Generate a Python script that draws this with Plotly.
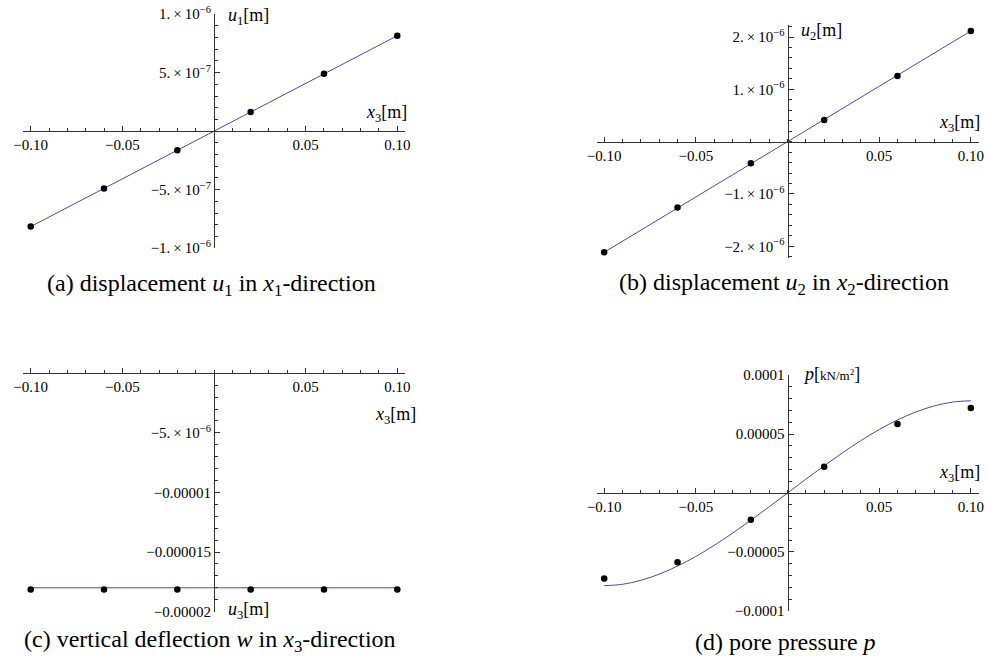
import plotly.graph_objects as go

# ---------------- data ----------------
x_nodes = [-0.10, -0.06, -0.02, 0.02, 0.06, 0.10]

u1_points = [-0.815e-6, -0.49e-6, -0.163e-6, 0.163e-6, 0.49e-6, 0.815e-6]
u1_line_x = [-0.10, 0.10]
u1_line_y = [-0.815e-6, 0.815e-6]

u2_points = [-2.115e-6, -1.26e-6, -0.413e-6, 0.415e-6, 1.256e-6, 2.116e-6]
u2_line_x = [-0.10, 0.10]
u2_line_y = [-2.115e-6, 2.115e-6]

u3_points = [-1.815e-5, -1.815e-5, -1.815e-5, -1.815e-5, -1.815e-5, -1.815e-5]
u3_line_x = [-0.10, 0.10]
u3_line_y = [-1.80e-5, -1.80e-5]

p_points = [-7.24e-5, -5.88e-5, -2.26e-5, 2.23e-5, 5.85e-5, 7.20e-5]
p_curve_x = [-0.10, -0.09, -0.08, -0.07, -0.06, -0.05, -0.04, -0.03, -0.02, -0.01, 0.0,
             0.01, 0.02, 0.03, 0.04, 0.05, 0.06, 0.07, 0.08, 0.09, 0.10]
p_curve_y = [-7.86e-5, -7.74e-5, -7.40e-5, -6.88e-5, -6.20e-5, -5.38e-5, -4.44e-5, -3.41e-5,
             -2.31e-5, -1.17e-5, 0.0,
             1.17e-5, 2.31e-5, 3.41e-5, 4.44e-5, 5.38e-5, 6.19e-5, 6.87e-5, 7.38e-5, 7.71e-5, 7.82e-5]

x_tickvals = [-0.10, -0.05, 0.05, 0.10]
x_ticktext = ["\u22120.10", "\u22120.05", "0.05", "0.10"]

SCI = "\u2009\u00d7\u200910"
y1_tickvals = [-1e-6, -5e-7, 5e-7, 1e-6]
y1_ticktext = ["\u22121." + SCI + "<sup>\u22126</sup>", "\u22125." + SCI + "<sup>\u22127</sup>",
               "5." + SCI + "<sup>\u22127</sup>", "1." + SCI + "<sup>\u22126</sup>"]
y2_tickvals = [-2e-6, -1e-6, 1e-6, 2e-6]
y2_ticktext = ["\u22122." + SCI + "<sup>\u22126</sup>", "\u22121." + SCI + "<sup>\u22126</sup>",
               "1." + SCI + "<sup>\u22126</sup>", "2." + SCI + "<sup>\u22126</sup>"]
y3_tickvals = [-2e-5, -1.5e-5, -1e-5, -5e-6]
y3_ticktext = ["\u22120.00002", "\u22120.000015", "\u22120.00001", "\u22125." + SCI + "<sup>\u22126</sup>"]
y4_tickvals = [-1e-4, -5e-5, 5e-5, 1e-4]
y4_ticktext = ["\u22120.0001", "\u22120.00005", "0.00005", "0.0001"]

captions = [
    "(a) displacement <i>u</i><sub>1</sub> in <i>x</i><sub>1</sub>-direction",
    "(b) displacement <i>u</i><sub>2</sub> in <i>x</i><sub>2</sub>-direction",
    "(c) vertical deflection <i>w</i> in <i>x</i><sub>3</sub>-direction",
    "(d) pore pressure <i>p</i>",
]

# ---------------- layout helpers ----------------
W, H = 987, 659
FONT = "Liberation Serif, Times New Roman, DejaVu Serif, serif"
AX_COL = "#333333"
LINE_COL = "#4a4aa8"

def fx(px):
    return px / W

def fy(py):
    return 1 - py / H

fig = go.Figure()

panels = [
    dict(xpix=(23, 405), ypix=(14, 248.3), xr=(-0.1042, 0.1042), yr=(-1.0005e-6, 1.0005e-6),
         ytv=y1_tickvals, ytt=y1_ticktext, ydt=1e-7),
    dict(xpix=(596.5, 978.5), ypix=(25, 258.3), xr=(-0.1042, 0.1042), yr=(-2.23e-6, 2.23e-6),
         ytv=y2_tickvals, ytt=y2_ticktext, ydt=2e-7),
    dict(xpix=(23, 405), ypix=(369.7, 611.7), xr=(-0.1042, 0.1042), yr=(-2.0005e-5, 3e-7),
         ytv=y3_tickvals, ytt=y3_ticktext, ydt=1e-6),
    dict(xpix=(596.5, 978.5), ypix=(375, 611), xr=(-0.1042, 0.1042), yr=(-1.0005e-4, 1.0005e-4),
         ytv=y4_tickvals, ytt=y4_ticktext, ydt=1e-5),
]

layout_axes = {}
for i, p in enumerate(panels, start=1):
    xname = "xaxis" if i == 1 else f"xaxis{i}"
    yname = "yaxis" if i == 1 else f"yaxis{i}"
    xd = [fx(p["xpix"][0]), fx(p["xpix"][1])]
    yd = [fy(p["ypix"][1]), fy(p["ypix"][0])]
    x0, x1 = p["xr"]
    y0, y1 = p["yr"]
    xpos = xd[0] + (0 - x0) / (x1 - x0) * (xd[1] - xd[0])
    ypos = yd[0] + (0 - y0) / (y1 - y0) * (yd[1] - yd[0])
    common = dict(showgrid=False, zeroline=False, showline=True, linecolor=AX_COL, linewidth=1,
                  ticks="inside", ticklen=5, tickwidth=1, tickcolor=AX_COL,
                  tickfont=dict(family=FONT, size=15, color="black"),
                  tickmode="array", anchor="free", fixedrange=True,
                  automargin=False, ticklabeloverflow="allow")
    layout_axes[xname] = dict(common, domain=xd, range=list(p["xr"]), position=ypos,
                              tickvals=x_tickvals, ticktext=x_ticktext,
                              minor=dict(tickmode="linear", tick0=0, dtick=0.01, ticks="inside",
                                         ticklen=3, tickcolor=AX_COL, tickwidth=1))
    layout_axes[yname] = dict(common, domain=yd, range=list(p["yr"]), position=xpos,
                              tickvals=p["ytv"], ticktext=p["ytt"],
                              minor=dict(tickmode="linear", tick0=0, dtick=p["ydt"], ticks="inside",
                                         ticklen=3, tickcolor=AX_COL, tickwidth=1))

series = [
    (u1_line_x, u1_line_y, u1_points),
    (u2_line_x, u2_line_y, u2_points),
    (u3_line_x, u3_line_y, u3_points),
    (p_curve_x, p_curve_y, p_points),
]
for i, (lx, ly, pts) in enumerate(series, start=1):
    xa = "x" if i == 1 else f"x{i}"
    ya = "y" if i == 1 else f"y{i}"
    fig.add_trace(go.Scatter(x=lx, y=ly, mode="lines", xaxis=xa, yaxis=ya,
                             line=dict(color=LINE_COL, width=1, shape="spline" if i == 4 else "linear"),
                             hoverinfo="skip", showlegend=False, cliponaxis=False))
    fig.add_trace(go.Scatter(x=x_nodes, y=pts, mode="markers", xaxis=xa, yaxis=ya,
                             marker=dict(color="black", size=6.5), showlegend=False, cliponaxis=False))

ann = []
def text(px, py, s, size=18, xanchor="left"):
    ann.append(dict(x=fx(px), y=fy(py), xref="paper", yref="paper", text=s, showarrow=False,
                    xanchor=xanchor, yanchor="middle", font=dict(family=FONT, size=size, color="black")))

lab_m = "[m]"
text(226, 17, "<i>u</i><sub>1</sub>" + lab_m)
text(409, 113, "<i>x</i><sub>3</sub>" + lab_m, xanchor="right")
text(799, 32, "<i>u</i><sub>2</sub>" + lab_m)
text(982, 123, "<i>x</i><sub>3</sub>" + lab_m, xanchor="right")
text(418, 415, "<i>x</i><sub>3</sub>" + lab_m, xanchor="right")
text(226, 610, "<i>u</i><sub>3</sub>" + lab_m)
text(801, 374, "<i>p</i>[<span style='font-size:13px'>kN/m<sup>2</sup></span>]")
text(982, 473, "<i>x</i><sub>3</sub>" + lab_m, xanchor="right")

text(211, 285, captions[0], size=24, xanchor="center")
text(784, 284, captions[1], size=24, xanchor="center")
text(210, 641, captions[2], size=24, xanchor="center")
text(785, 642, captions[3], size=24, xanchor="center")

fig.update_layout(width=W, height=H, autosize=False, margin=dict(l=0, r=0, t=0, b=0, pad=0),
                  paper_bgcolor="white", plot_bgcolor="rgba(0,0,0,0)",
                  annotations=ann, showlegend=False, **layout_axes)

# the page's default 8px body margin would shift the 987x659 figure; remove it
fig.write_html("out.html", config={"displayModeBar": False},
               post_script="document.body.style.margin='0px';")
